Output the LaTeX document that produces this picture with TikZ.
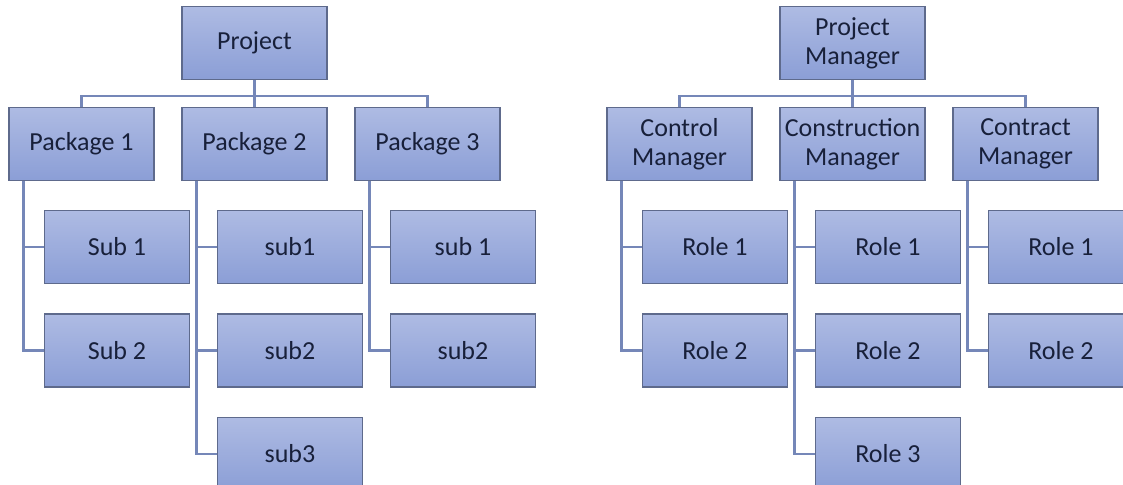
\documentclass[tikz,border=0pt]{standalone}
\usepackage{fontspec}
\setmainfont{Carlito}
\usepackage{tikz}

\definecolor{boxtop}{HTML}{AEBBE3}
\definecolor{boxbot}{HTML}{8B9ED6}
\definecolor{boxline}{HTML}{5E6A8C}
\definecolor{linkline}{HTML}{7587B8}
\definecolor{boxtext}{HTML}{18203A}

\tikzset{
  orgbox/.style={rectangle,draw=boxline,line width=0.6pt,top color=boxtop,bottom color=boxbot,
    minimum width=72.5pt,minimum height=36.5pt,inner sep=1pt,align=center,text=boxtext,
    font=\fontsize{13}{14.5}\selectfont},
  link/.style={draw=linkline,line width=1.1pt}
}

\begin{document}
\begin{tikzpicture}[x=0.5pt,y=-0.5pt]
	\useasboundingbox (0,0) rectangle (1123,484);

	\begin{scope}[every node/.style={orgbox}]
	    \node (proj) at (254.5,43) {Project};
	    \node (p1) at (81.5,144) {Package 1};
	    \node (p2) at (254.5,144) {Package 2};
	    \node (p3) at (427.5,144) {Package 3};
	    \node (s11) at (117,247) {Sub 1};
	    \node (s12) at (117,350.5) {Sub 2};
	    \node (s21) at (290,247) {sub1};
	    \node (s22) at (290,350.5) {sub2};
	    \node (s23) at (290,454) {sub3};
	    \node (s31) at (463,247) {sub 1};
	    \node (s32) at (463,350.5) {sub2};

	    \node (pm) at (852.5,43) {Project\\Manager};
	    \node (cm1) at (679.5,144) {Control\\Manager};
	    \node (cm2) at (852.5,144) {Construction\\Manager};
	    \node (cm3) at (1025.5,144) {Contract\\Manager};
	    \node (r11) at (715,247) {Role 1};
	    \node (r12) at (715,350.5) {Role 2};
	    \node (r21) at (888,247) {Role 1};
	    \node (r22) at (888,350.5) {Role 2};
	    \node (r23) at (888,454) {Role 3};
	    \node (r31) at (1061,247) {Role 1};
	    \node (r32) at (1061,350.5) {Role 2};
	\end{scope}

	\begin{scope}[every path/.style={link}]
	    \draw (proj.south) -- ++(0,16) coordinate (bus1);
	    \draw (bus1) -| (p1.north);
	    \draw (bus1) -| (p2.north);
	    \draw (bus1) -| (p3.north);
	    \draw ([xshift=7.5pt]p1.south west) |- (s11.west);
	    \draw ([xshift=7.5pt]p1.south west) |- (s12.west);
	    \draw ([xshift=7.5pt]p2.south west) |- (s21.west);
	    \draw ([xshift=7.5pt]p2.south west) |- (s22.west);
	    \draw ([xshift=7.5pt]p2.south west) |- (s23.west);
	    \draw ([xshift=7.5pt]p3.south west) |- (s31.west);
	    \draw ([xshift=7.5pt]p3.south west) |- (s32.west);

	    \draw (pm.south) -- ++(0,16) coordinate (bus2);
	    \draw (bus2) -| (cm1.north);
	    \draw (bus2) -| (cm2.north);
	    \draw (bus2) -| (cm3.north);
	    \draw ([xshift=7.5pt]cm1.south west) |- (r11.west);
	    \draw ([xshift=7.5pt]cm1.south west) |- (r12.west);
	    \draw ([xshift=7.5pt]cm2.south west) |- (r21.west);
	    \draw ([xshift=7.5pt]cm2.south west) |- (r22.west);
	    \draw ([xshift=7.5pt]cm2.south west) |- (r23.west);
	    \draw ([xshift=7.5pt]cm3.south west) |- (r31.west);
	    \draw ([xshift=7.5pt]cm3.south west) |- (r32.west);
	\end{scope}
\end{tikzpicture}
\end{document}
